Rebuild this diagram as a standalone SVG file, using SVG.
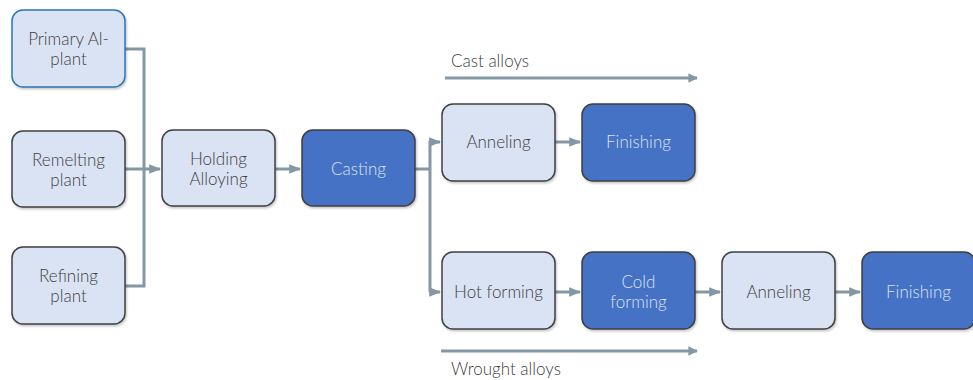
<svg xmlns="http://www.w3.org/2000/svg" width="973" height="380" viewBox="0 0 973 380">
<defs>
<marker id="arr" viewBox="0 0 10 10" refX="9" refY="5" markerWidth="4" markerHeight="4" orient="auto" markerUnits="strokeWidth"><path d="M0,1 L10,5 L0,9 z" fill="#8497a5"/></marker>
<marker id="arrBig" viewBox="0 0 10 10" refX="9" refY="5" markerWidth="3.2" markerHeight="3.2" orient="auto" markerUnits="strokeWidth"><path d="M0,0 L10,5 L0,10 z" fill="#8497a5"/></marker>
<filter id="sh" x="-10%" y="-10%" width="125%" height="125%"><feDropShadow dx="1" dy="1.5" stdDeviation="1.2" flood-color="#000" flood-opacity="0.25"/></filter>
</defs>
<style>
.light{fill:#dae3f3;stroke:#404040;stroke-width:1.5;filter:url(#sh)}
.dark{fill:#4472c4;stroke:#404040;stroke-width:1.5;filter:url(#sh)}
.blueb{fill:#dae3f3;stroke:#2e75b6;stroke-width:1.5;filter:url(#sh)}
text{font-family:Lato,"Open Sans","Liberation Sans",sans-serif;font-size:17px;font-weight:300;text-anchor:middle}
.tl{fill:#404040}
.td{fill:#dae3f3}
.lab{fill:#404040;text-anchor:start}
.c{fill:none;stroke:#8497a5;stroke-width:3}
</style>
<g id="connectors">
<path class="c" d="M125,49 H144 V286 H125"/>
<path class="c" d="M125,169 H160" marker-end="url(#arr)"/>
<path class="c" d="M275,169 H300" marker-end="url(#arr)"/>
<path class="c" d="M415,169 H430"/>
<path class="c" d="M430,292 V142 H440" marker-end="url(#arr)"/>
<path class="c" d="M430,292 H440" marker-end="url(#arr)"/>
<path class="c" d="M555,142 H580" marker-end="url(#arr)"/>
<path class="c" d="M555,292 H580" marker-end="url(#arr)"/>
<path class="c" d="M695,292 H720" marker-end="url(#arr)"/>
<path class="c" d="M835,292 H860" marker-end="url(#arr)"/>
<path class="c" d="M445,78 H697" marker-end="url(#arrBig)"/>
<path class="c" d="M441,351 H697" marker-end="url(#arrBig)"/>
</g>
<g id="primary"><rect class="blueb" x="12" y="10" width="113" height="77" rx="11"/><text class="tl" x="68.5" y="45">Primary Al-</text><text class="tl" x="68.5" y="65">plant</text></g>
<g id="remelting"><rect class="light" x="12" y="131" width="113" height="76" rx="11"/><text class="tl" x="68.5" y="166">Remelting</text><text class="tl" x="68.5" y="186">plant</text></g>
<g id="refining"><rect class="light" x="12" y="247" width="113" height="77" rx="11"/><text class="tl" x="68.5" y="282">Refining</text><text class="tl" x="68.5" y="302">plant</text></g>
<g id="holding"><rect class="light" x="162" y="130" width="113" height="76" rx="11"/><text class="tl" x="218.5" y="165">Holding</text><text class="tl" x="218.5" y="185">Alloying</text></g>
<g id="casting"><rect class="dark" x="302" y="130" width="113" height="76" rx="11"/><text class="td" x="358.5" y="175">Casting</text></g>
<g id="anneling1"><rect class="light" x="442" y="104" width="113" height="77" rx="11"/><text class="tl" x="498.5" y="148">Anneling</text></g>
<g id="finishing1"><rect class="dark" x="582" y="104" width="113" height="77" rx="11"/><text class="td" x="638.5" y="148">Finishing</text></g>
<g id="hotforming"><rect class="light" x="442" y="252" width="113" height="77" rx="11"/><text class="tl" x="498.5" y="298">Hot forming</text></g>
<g id="coldforming"><rect class="dark" x="582" y="252" width="113" height="77" rx="11"/><text class="td" x="638.5" y="288">Cold</text><text class="td" x="638.5" y="308">forming</text></g>
<g id="anneling2"><rect class="light" x="722" y="252" width="113" height="77" rx="11"/><text class="tl" x="778.5" y="298">Anneling</text></g>
<g id="finishing2"><rect class="dark" x="862" y="252" width="113" height="77" rx="11"/><text class="td" x="918.5" y="298">Finishing</text></g>
<g id="labels"><text class="lab" x="451" y="67">Cast alloys</text><text class="lab" x="451" y="375">Wrought alloys</text></g>
</svg>
